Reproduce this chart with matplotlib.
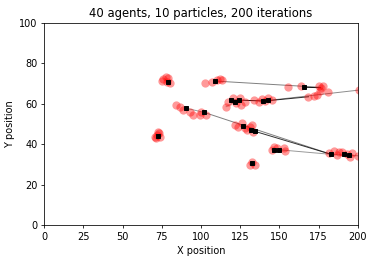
import matplotlib
matplotlib.use("Agg")
import matplotlib.pyplot as plt

title = "40 agents, 10 particles, 200 iterations"

agents_x = [79.0, 72.5, 108.7, 118.9, 121.5, 124.0, 139.5, 142.5, 90.6, 101.9,
            126.8, 131.7, 134.3, 132.5, 165.7, 146.6, 149.4, 183.0, 191.0, 194.5]
agents_y = [70.6, 44.0, 71.3, 62.0, 60.8, 62.0, 61.4, 61.7, 57.8, 55.8,
            49.2, 47.0, 46.4, 30.5, 68.2, 37.3, 37.3, 35.0, 35.3, 34.7]

particles_x = [76.0, 77.5, 79.0, 75.0, 80.5, 78.0,
               70.5, 72.0, 73.5, 74.0, 71.5, 72.8,
               102.5, 107.0, 110.0, 112.0, 113.5,
               117.2, 120.4, 122.5, 124.7, 127.9, 125.7, 116.2, 134.0, 137.0, 139.0, 141.0, 143.0, 145.0,
               84.3, 86.4, 88.5, 92.8, 94.9, 99.1, 103.4, 100.2,
               121.5, 123.6, 125.8, 127.9, 131.1, 132.2, 133.2, 129.0,
               131.1, 134.3, 132.5,
               146.2, 148.3, 152.6, 153.6, 145.1,
               155.7, 163.8, 175.0, 176.5, 178.0, 176.0, 180.8, 168.5, 171.7, 173.8, 200.4,
               181.3, 184.5, 187.7, 189.8, 193.0, 195.1, 196.2, 186.6, 200.0]
particles_y = [72.5, 73.5, 73.0, 71.5, 70.5, 71.0,
               43.5, 44.5, 45.5, 43.5, 43.0, 46.0,
               70.5, 71.0, 72.0, 72.5, 72.0,
               61.0, 62.7, 60.2, 63.0, 61.0, 59.4, 58.6, 62.0, 61.0, 62.5, 61.5, 63.0, 61.8,
               59.4, 58.6, 56.9, 56.1, 54.5, 54.5, 54.5, 56.1,
               49.5, 48.7, 50.3, 47.9, 48.7, 49.5, 46.2, 47.0,
               29.7, 29.7, 31.3,
               38.8, 38.0, 38.0, 36.6, 37.1,
               68.5, 69.0, 69.0, 68.0, 68.6, 66.5, 65.7, 63.5, 64.0, 64.4, 66.8,
               35.5, 36.6, 36.3, 36.0, 35.0, 33.8, 35.5, 34.7, 34.3]

link_x0 = [108.7, 165.7, 118.9, 140.4, 143.0, 101.9, 134.3, 149.4, 183.0, 90.6, 116.0]
link_y0 = [71.3, 68.2, 62.0, 61.4, 61.7, 55.8, 46.4, 37.3, 35.0, 57.8, 58.6]
link_x1 = [176.0, 176.0, 140.4, 168.5, 200.4, 183.0, 183.0, 183.0, 200.0, 101.9, 124.0]
link_y1 = [68.2, 68.0, 61.4, 63.5, 66.8, 35.0, 35.0, 35.0, 34.3, 55.8, 62.0]
link_alpha = [0.5, 0.9, 0.9, 0.8, 0.45, 0.5, 0.8, 0.4, 0.4, 0.4, 0.3]

fig, ax = plt.subplots(figsize=(374 / 70, 262 / 70), dpi=70)
fig.subplots_adjust(left=0.118, right=0.957, top=0.912, bottom=0.141)

for x0, y0, x1, y1, a in zip(link_x0, link_y0, link_x1, link_y1, link_alpha):
    ax.plot([x0, x1], [y0, y1], color="black", lw=1.0, alpha=a, zorder=1)

ax.plot(particles_x, particles_y, "o", color="red", alpha=0.4, ms=8.5,
        markeredgewidth=0, zorder=2)
ax.plot(agents_x, agents_y, "s", color="black", ms=5, zorder=3)

ax.set_xlim(0, 200)
ax.set_ylim(0, 100)
ax.set_xticks([0, 25, 50, 75, 100, 125, 150, 175, 200])
ax.set_yticks([0, 20, 40, 60, 80, 100])
ax.set_xlabel("X position")
ax.set_ylabel("Y position")
ax.set_title(title)

fig.savefig("out.png", dpi=70)
